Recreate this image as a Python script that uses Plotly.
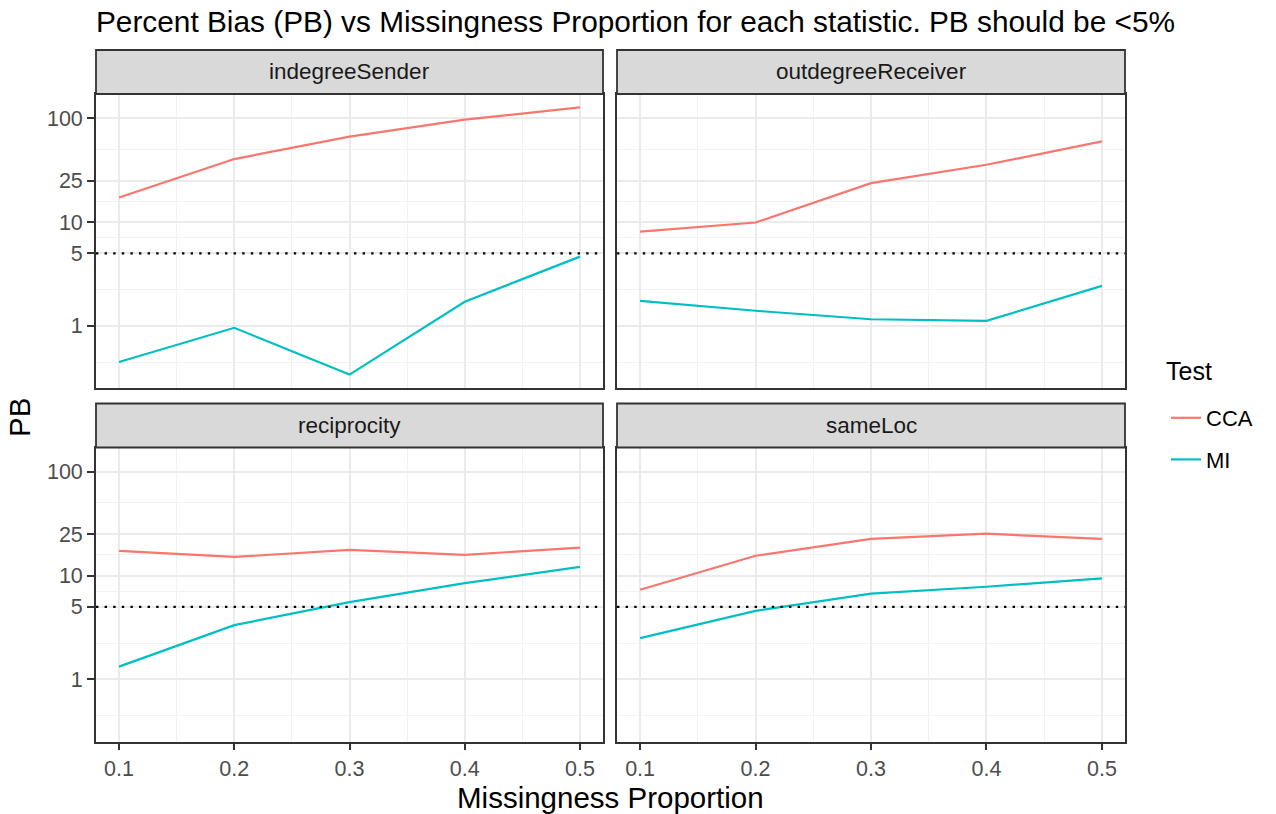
import math
import plotly.graph_objects as go

# ---------------- data ----------------
x_vals = [0.1, 0.2, 0.3, 0.4, 0.5]
stats = ["indegreeSender", "outdegreeReceiver", "reciprocity", "sameLoc"]
cca_indegreeSender = [17.2, 40.4, 66.5, 96.6, 127]
mi_indegreeSender = [0.45, 0.96, 0.34, 1.71, 4.65]
cca_outdegreeReceiver = [8.1, 9.9, 23.7, 35.6, 59.7]
mi_outdegreeReceiver = [1.74, 1.40, 1.16, 1.12, 2.43]
cca_reciprocity = [17.3, 15.1, 17.7, 15.8, 18.6]
mi_reciprocity = [1.33, 3.33, 5.55, 8.45, 12.1]
cca_sameLoc = [7.3, 15.5, 22.5, 25.3, 22.5]
mi_sameLoc = [2.5, 4.57, 6.7, 7.8, 9.4]
y_breaks = [1, 5, 10, 25, 100]
x_breaks = [0.1, 0.2, 0.3, 0.4, 0.5]
threshold = 5
tests = ["CCA", "MI"]
colors = {"CCA": "#F8766D", "MI": "#00BFC4"}

series = {
    "indegreeSender": {"CCA": cca_indegreeSender, "MI": mi_indegreeSender},
    "outdegreeReceiver": {"CCA": cca_outdegreeReceiver, "MI": mi_outdegreeReceiver},
    "reciprocity": {"CCA": cca_reciprocity, "MI": mi_reciprocity},
    "sameLoc": {"CCA": cca_sameLoc, "MI": mi_sameLoc},
}

# ---------------- layout geometry ----------------
W, H = 1276, 814
FONT = "Liberation Sans, Arial, sans-serif"
panels_px = {  # x0, x1, ytop, ybottom
    "indegreeSender": (96, 603, 94, 388),
    "outdegreeReceiver": (617, 1125, 94, 388),
    "reciprocity": (96, 603, 447.5, 741.5),
    "sameLoc": (617, 1125, 447.5, 741.5),
}
strip_h = 44

# scale ranges (ggplot 5% expansion)
all_vals = [v for s in series.values() for t in s.values() for v in t]
lmin, lmax = math.log10(min(all_vals)), math.log10(max(all_vals))
pad = 0.05 * (lmax - lmin)
y_range = [lmin - pad, lmax + pad]
xpad = 0.05 * (max(x_vals) - min(x_vals))
x_range = [min(x_vals) - xpad, max(x_vals) + xpad]

# minor breaks (midpoints in transformed space)
lb = [math.log10(b) for b in y_breaks]
minor_log = [(lb[i] + lb[i + 1]) / 2 for i in range(len(lb) - 1)]
minor_log = [lb[0] - (lb[1] - lb[0]) / 2] + minor_log + [lb[-1] + (lb[-1] - lb[-2]) / 2]
y_minor = [10 ** m for m in minor_log if y_range[0] <= m <= y_range[1]]
x_minor = [round(b + 0.05, 2) for b in [0.0] + x_breaks]
x_minor = [m for m in x_minor if x_range[0] <= m <= x_range[1]]

fig = go.Figure()

for i, st in enumerate(stats):
    n = i + 1
    xa = "x" if n == 1 else f"x{n}"
    ya = "y" if n == 1 else f"y{n}"
    x0, x1, yt, yb = panels_px[st]
    left = st in ("indegreeSender", "reciprocity")
    bottom = st in ("reciprocity", "sameLoc")

    for t in tests:
        fig.add_trace(go.Scatter(
            x=x_vals, y=series[st][t], mode="lines", name=t,
            line=dict(color=colors[t], width=2.2),
            xaxis=xa, yaxis=ya, legendgroup=t, showlegend=(n == 1),
        ))
    fig.add_trace(go.Scatter(
        x=x_range, y=[threshold, threshold], mode="lines",
        line=dict(color="black", width=2.4, dash="2.4px,6.2px"),
        xaxis=xa, yaxis=ya, showlegend=False, hoverinfo="skip",
    ))

    xkey = "xaxis" if n == 1 else f"xaxis{n}"
    ykey = "yaxis" if n == 1 else f"yaxis{n}"
    fig.update_layout({
        xkey: dict(
            domain=[x0 / W, x1 / W], anchor=ya, range=x_range,
            tickmode="array", tickvals=x_breaks,
            ticktext=[f"{v:g}" for v in x_breaks],
            showticklabels=bottom, ticks="outside" if bottom else "",
            ticklen=7, tickwidth=1.6, tickcolor="#333333",
            tickfont=dict(family=FONT, size=21.5, color="#4D4D4D"),
            showgrid=True, gridcolor="#EBEBEB", gridwidth=1.8,
            minor=dict(tickmode="array", tickvals=x_minor, showgrid=True,
                       gridcolor="#F2F2F2", gridwidth=1, ticks=""),
            showline=True, mirror=True, linecolor="#333333", linewidth=1.8,
            zeroline=False, fixedrange=True,
        ),
        ykey: dict(
            domain=[1 - yb / H, 1 - yt / H], anchor=xa, type="log", range=y_range,
            tickmode="array", tickvals=y_breaks,
            ticktext=[str(v) for v in y_breaks],
            showticklabels=left, ticks="outside" if left else "",
            ticklen=7, tickwidth=1.6, tickcolor="#333333",
            tickfont=dict(family=FONT, size=21.5, color="#4D4D4D"),
            showgrid=True, gridcolor="#EBEBEB", gridwidth=1.8,
            minor=dict(tickmode="array", tickvals=y_minor, showgrid=True,
                       gridcolor="#F2F2F2", gridwidth=1, ticks=""),
            showline=True, mirror=True, linecolor="#333333", linewidth=1.8,
            zeroline=False, fixedrange=True,
        ),
    })
    # strip
    ph = yb - yt
    fig.add_shape(type="rect", xref=f"{xa} domain", yref=f"{ya} domain",
                  x0=0, x1=1, y0=1, y1=1 + strip_h / ph,
                  fillcolor="#D9D9D9", line=dict(color="#333333", width=1.8),
                  layer="above")
    fig.add_annotation(text=st, xref=f"{xa} domain", yref=f"{ya} domain",
                       x=0.5, y=1 + strip_h / 2 / ph, showarrow=False,
                       xanchor="center", yanchor="middle",
                       font=dict(family=FONT, size=22.5, color="#1A1A1A"))

# titles
fig.add_annotation(text="Percent Bias (PB) vs Missingness Proportion for each statistic. PB should be <5%",
                   xref="paper", yref="paper", x=94 / W, y=1 - 22 / H,
                   xanchor="left", yanchor="middle", showarrow=False,
                   font=dict(family=FONT, size=29.8, color="black"))
fig.add_annotation(text="Missingness Proportion", xref="paper", yref="paper",
                   x=(96 + 1125) / 2 / W, y=1 - 797 / H, xanchor="center", yanchor="middle",
                   showarrow=False, font=dict(family=FONT, size=29.5, color="black"))
fig.add_annotation(text="PB", xref="paper", yref="paper",
                   x=19 / W, y=1 - 418 / H, xanchor="center", yanchor="middle",
                   textangle=-90, showarrow=False,
                   font=dict(family=FONT, size=29.5, color="black"))
# legend title
fig.add_annotation(text="Test", xref="paper", yref="paper",
                   x=1164 / W, y=1 - 371 / H, xanchor="left", yanchor="middle",
                   showarrow=False, font=dict(family=FONT, size=25, color="black"))

fig.update_layout(
    width=W, height=H, margin=dict(l=0, r=0, t=0, b=0),
    paper_bgcolor="white", plot_bgcolor="white",
    showlegend=True,
    legend=dict(
        font=dict(family=FONT, size=22, color="black"),
        x=1166 / W, y=1 - 397 / H, xanchor="left", yanchor="top",
        bgcolor="rgba(0,0,0,0)", tracegroupgap=10,
    ),
)

fig.write_html("out.html")
